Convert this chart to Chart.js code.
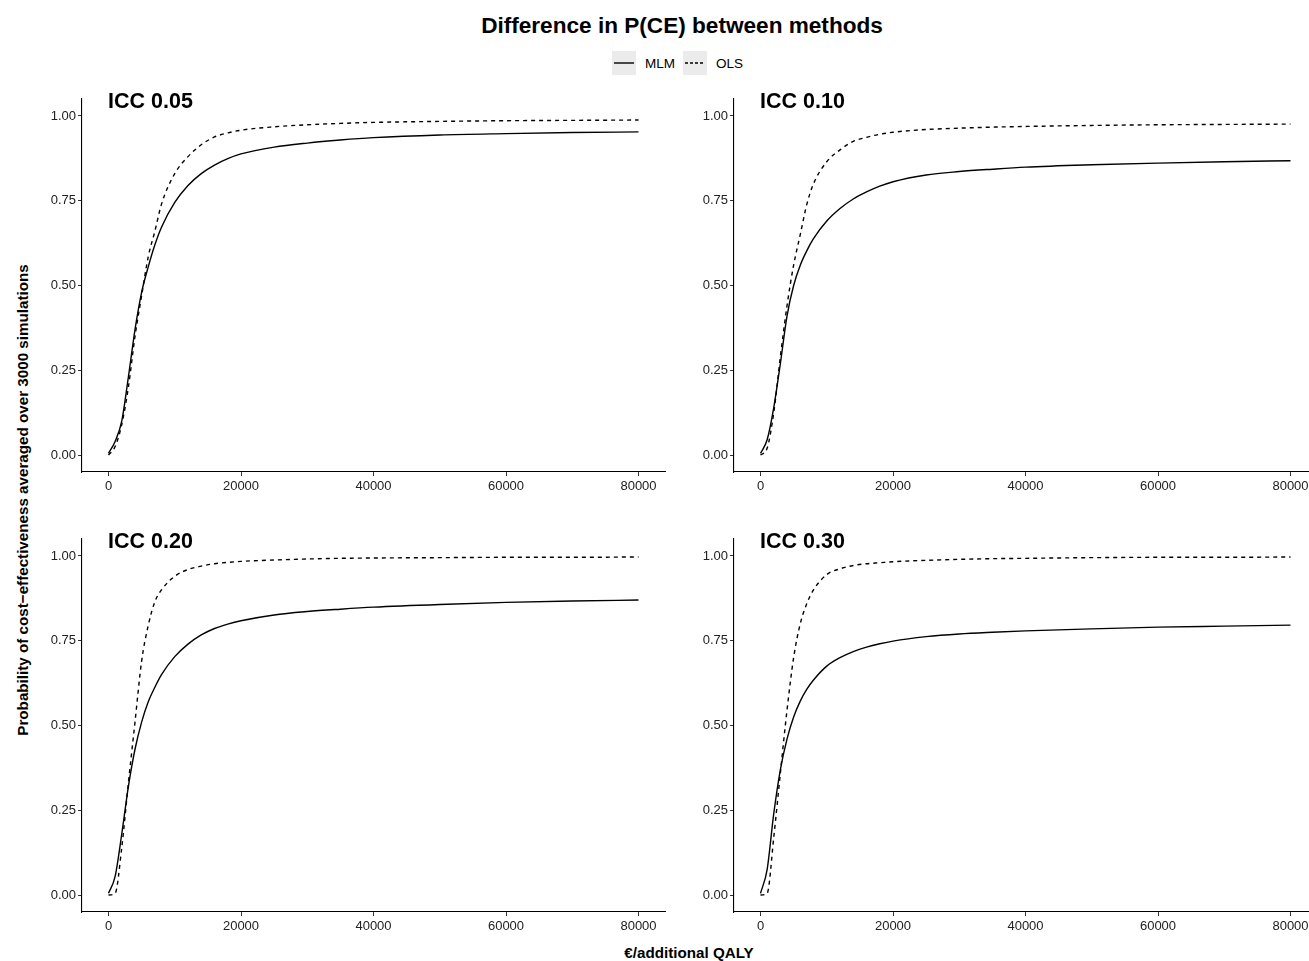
<!DOCTYPE html>
<html>
<head>
<meta charset="utf-8">
<script src="https://cdn.jsdelivr.net/npm/chart.js@4.4.1/dist/chart.umd.min.js"></script>
<style>
  body { margin: 0; width: 1309px; height: 961px; overflow: hidden; background: #fff; position: relative;
         font-family: "Liberation Sans", Arial, sans-serif; color: #000; }
  canvas { position: absolute; }
  .txt { position: absolute; white-space: nowrap; font-weight: bold; }
  #title { left: 0; width: 1364px; top: 13px; text-align: center; font-size: 22.6px; }
  #xtitle { left: 0; width: 1378px; top: 944px; text-align: center; font-size: 15.2px; }
  #ytitle { left: 22px; top: 500px; font-size: 15.2px; transform: translate(-50%, -50%) rotate(-90deg); }
  .tag { font-size: 21.5px; }
  #legend { position: absolute; top: 51px; left: 612px; display: flex; align-items: center; font-size: 13.5px; }
  .key { width: 24px; height: 24px; background: #ebebeb; }
  .key svg { display: block; }
  .lab { margin: 0 8px 0 9px; }
</style>
</head>
<body>
<div id="title" class="txt">Difference in P(CE) between methods</div>
<div id="legend">
  <div class="key"><svg width="24" height="24"><line x1="2" y1="12" x2="22" y2="12" stroke="#000" stroke-width="1.4"/></svg></div>
  <span class="lab">MLM</span>
  <div class="key"><svg width="24" height="24"><line x1="2" y1="12" x2="22" y2="12" stroke="#000" stroke-width="1.4" stroke-dasharray="3,2"/></svg></div>
  <span class="lab">OLS</span>
</div>
<div id="ytitle" class="txt">Probability of cost−effectiveness averaged over 3000 simulations</div>
<div id="xtitle" class="txt">€/additional QALY</div>

<canvas id="p1" width="661" height="413" style="left:19px;top:89px"></canvas>
<canvas id="p2" width="661" height="413" style="left:671px;top:89px"></canvas>
<canvas id="p3" width="661" height="413" style="left:19px;top:529px"></canvas>
<canvas id="p4" width="661" height="413" style="left:671px;top:529px"></canvas>

<div class="txt tag" style="left:108px;top:89px">ICC 0.05</div>
<div class="txt tag" style="left:760px;top:89px">ICC 0.10</div>
<div class="txt tag" style="left:108px;top:529px">ICC 0.20</div>
<div class="txt tag" style="left:760px;top:529px">ICC 0.30</div>

<script>
  const xValues = [0, 1000, 2000, 3000, 4000, 5000, 6000, 7000, 8000, 10000, 12000, 14000,
                   16000, 18000, 20000, 25000, 30000, 35000, 40000, 50000, 60000, 70000, 80000];
  const xTicks = [0, 20000, 40000, 60000, 80000];
  const yTicks = [0, 0.25, 0.5, 0.75, 1];

  const mlm05 = [0.005, 0.04, 0.10, 0.23, 0.37, 0.48, 0.555, 0.62, 0.672, 0.745, 0.795, 0.83,
                 0.855, 0.874, 0.888, 0.908, 0.92, 0.929, 0.936, 0.944, 0.948, 0.951, 0.953];
  const ols05 = [0, 0.025, 0.09, 0.20, 0.35, 0.47, 0.585, 0.66, 0.74, 0.83, 0.88, 0.915,
                 0.938, 0.95, 0.958, 0.968, 0.974, 0.978, 0.981, 0.984, 0.986, 0.987, 0.988];
  const mlm10 = [0.005, 0.045, 0.14, 0.27, 0.41, 0.50, 0.56, 0.603, 0.638, 0.69, 0.727, 0.755,
                 0.776, 0.793, 0.806, 0.826, 0.836, 0.843, 0.849, 0.856, 0.861, 0.865, 0.868];
  const ols10 = [0, 0.02, 0.125, 0.29, 0.44, 0.56, 0.65, 0.74, 0.80, 0.865, 0.90, 0.925,
                 0.937, 0.946, 0.952, 0.96, 0.964, 0.967, 0.969, 0.972, 0.974, 0.975, 0.976];
  const mlm20 = [0.005, 0.055, 0.18, 0.32, 0.43, 0.51, 0.57, 0.613, 0.65, 0.703, 0.74, 0.767,
                 0.786, 0.799, 0.809, 0.826, 0.836, 0.843, 0.849, 0.857, 0.863, 0.867, 0.870];
  const ols20 = [0, 0.005, 0.14, 0.33, 0.51, 0.69, 0.795, 0.865, 0.90, 0.94, 0.96, 0.97,
                 0.977, 0.981, 0.984, 0.988, 0.991, 0.993, 0.994, 0.995, 0.996, 0.996, 0.997];
  const mlm30 = [0.005, 0.075, 0.24, 0.37, 0.46, 0.525, 0.572, 0.607, 0.634, 0.675, 0.70, 0.718,
                 0.731, 0.741, 0.749, 0.762, 0.77, 0.775, 0.779, 0.785, 0.79, 0.793, 0.796];
  const ols30 = [0, 0.005, 0.17, 0.36, 0.545, 0.70, 0.80, 0.86, 0.90, 0.945, 0.962, 0.972,
                 0.977, 0.98, 0.983, 0.987, 0.99, 0.992, 0.993, 0.995, 0.996, 0.996, 0.997];

  const toPoints = ys => xValues.map((x, i) => ({ x: x, y: ys[i] }));

  const axisBits = {
    grid: { drawOnChartArea: false, drawTicks: true, tickLength: 4, color: "#333", lineWidth: 1 },
    border: { display: true, color: "#000", width: 1.1 }
  };

  function makePanel(id, mlm, ols) {
    new Chart(document.getElementById(id), {
      type: 'line',
      data: {
        datasets: [{
          label: 'MLM',
          data: toPoints(mlm),
          borderColor: "#000",
          borderWidth: 1.4,
          pointRadius: 0,
          cubicInterpolationMode: 'monotone',
          fill: false
        }, {
          label: 'OLS',
          data: toPoints(ols),
          borderColor: "#000",
          borderWidth: 1.4,
          borderDash: [4, 4],
          pointRadius: 0,
          cubicInterpolationMode: 'monotone',
          fill: false
        }]
      },
      options: {
        responsive: false,
        animation: false,
        layout: { padding: { top: 10, right: 15, left: 0, bottom: 0 } },
        plugins: { legend: { display: false }, tooltip: { enabled: false } },
        scales: {
          x: {
            type: 'linear',
            min: -4000,
            max: 84000,
            afterBuildTicks: s => { s.ticks = xTicks.map(v => ({ value: v })); },
            afterFit: s => { s.height = 30; },
            ticks: { color: "#222", font: { size: 13, family: "Liberation Sans" }, padding: 3,
                     maxRotation: 0, callback: v => String(v) },
            ...axisBits
          },
          y: {
            min: -0.05,
            max: 1.05,
            afterBuildTicks: s => { s.ticks = yTicks.map(v => ({ value: v })); },
            afterFit: s => { s.width = 63; },
            ticks: { color: "#222", font: { size: 13, family: "Liberation Sans" }, padding: 2,
                     callback: v => Number(v).toFixed(2) },
            ...axisBits
          }
        }
      }
    });
  }

  makePanel("p1", mlm05, ols05);
  makePanel("p2", mlm10, ols10);
  makePanel("p3", mlm20, ols20);
  makePanel("p4", mlm30, ols30);
</script>
</body>
</html>
